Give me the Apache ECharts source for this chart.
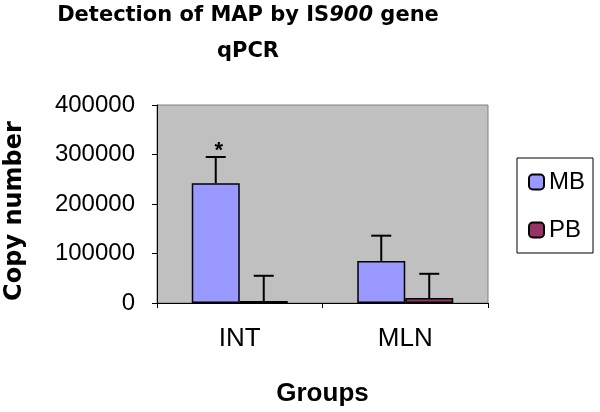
<!DOCTYPE html>
<html>
<head>
<meta charset="utf-8">
<script src="https://cdn.jsdelivr.net/npm/echarts@6/dist/echarts.min.js"></script>
<style>html,body{margin:0;padding:0;background:#fff}#c{width:600px;height:412px}</style>
</head>
<body>
<div id="c"></div>
<script>
const categories = ['INT', 'MLN'];
const seriesNames = ['MB', 'PB'];
const mbValues = [242000, 85000];
const pbValues = [4000, 10000];
const mbErrors = [53000, 51000];
const pbErrors = [51000, 49000];
const mbMarks = ['*', ''];
const pbMarks = ['', ''];
const yTicks = [0, 100000, 200000, 300000, 400000];

const FONT = '"Liberation Sans", Arial, sans-serif';
const WIDE = '"DejaVu Sans", sans-serif';
const BAR_W = 48;

function errSeries(name, values, errors, marks, idx) {
  return {
    type: 'custom',
    name: name + ' error',
    z: 5,
    data: values.map((v, i) => [i, v, v + errors[i], marks[i]]),
    renderItem: function (params, api) {
      const base = api.coord([api.value(0), api.value(1)]);
      const top = api.coord([api.value(0), api.value(2)]);
      const x = base[0] + (idx - 0.5) * BAR_W;
      const capHalf = 10;
      const children = [
        { type: 'line', shape: { x1: x, y1: base[1], x2: x, y2: top[1] }, style: { stroke: '#000', lineWidth: 2 } },
        { type: 'line', shape: { x1: x - capHalf, y1: top[1], x2: x + capHalf, y2: top[1] }, style: { stroke: '#000', lineWidth: 2 } }
      ];
      const m = api.value(3);
      if (m) {
        children.push({ type: 'text', style: { text: m, x: x + 3, y: top[1] + 5, align: 'center', verticalAlign: 'bottom', font: 'bold 22px ' + FONT, fill: '#000' } });
      }
      return { type: 'group', children: children };
    }
  };
}

const chart = echarts.init(document.getElementById('c'), null, { renderer: 'canvas' });
chart.setOption({
  animation: false,
  backgroundColor: '#fff',
  graphic: [
    { type: 'text', x: 248, y: 16,
      style: { text: 'Detection of MAP by IS{i|900} gene', font: 'bold 21px ' + WIDE, fill: '#000', align: 'center', verticalAlign: 'middle',
        rich: { i: { font: 'italic bold 21px ' + WIDE, fill: '#000' } } } },
    { type: 'text', x: 248, y: 52,
      style: { text: 'qPCR', font: 'bold 21px ' + WIDE, fill: '#000', align: 'center', verticalAlign: 'middle' } }
  ],
  grid: { left: 157, right: 112, top: 105, bottom: 109, containLabel: false, outerBoundsMode: 'none',
    show: true, backgroundColor: '#C0C0C0', borderColor: '#808080', borderWidth: 1 },
  legend: {
    orient: 'vertical', left: 517, top: 158,
    data: seriesNames,
    padding: [12, 8, 11, 11], itemGap: 24, itemWidth: 15, itemHeight: 15,
    borderColor: '#000', borderWidth: 1, backgroundColor: '#fff',
    textStyle: { fontFamily: FONT, fontSize: 24, color: '#000' }
  },
  xAxis: {
    type: 'category', data: categories,
    name: 'Groups', nameLocation: 'middle', nameGap: 78,
    nameTextStyle: { fontFamily: FONT, fontSize: 26, fontWeight: 'bold', color: '#000' },
    axisLine: { lineStyle: { color: '#000', width: 1 } },
    axisTick: { show: true, length: 5, lineStyle: { color: '#000' } },
    axisLabel: { fontFamily: FONT, fontSize: 26, color: '#000', margin: 23 }
  },
  yAxis: {
    type: 'value', min: yTicks[0], max: yTicks[yTicks.length - 1], interval: yTicks[1] - yTicks[0],
    name: 'Copy number', nameLocation: 'middle', nameGap: 130,
    nameTextStyle: { fontFamily: WIDE, fontSize: 24, fontWeight: 'bold', color: '#000', padding: [0, 14, 0, 0] },
    axisLine: { show: true, lineStyle: { color: '#000', width: 1 } },
    axisTick: { show: true, length: 5, lineStyle: { color: '#000' } },
    axisLabel: { fontFamily: FONT, fontSize: 24, color: '#000', margin: 22, formatter: v => String(v) },
    splitLine: { show: false }
  },
  series: [
    { type: 'bar', name: seriesNames[0], data: mbValues, barWidth: BAR_W, barGap: '0%',
      itemStyle: { color: '#9999FF', borderColor: '#000', borderWidth: 1.5 } },
    { type: 'bar', name: seriesNames[1], data: pbValues, barWidth: BAR_W, barGap: '0%',
      itemStyle: { color: '#993366', borderColor: '#000', borderWidth: 1.5 } },
    errSeries(seriesNames[0], mbValues, mbErrors, mbMarks, 0),
    errSeries(seriesNames[1], pbValues, pbErrors, pbMarks, 1)
  ]
});
</script>
</body>
</html>
